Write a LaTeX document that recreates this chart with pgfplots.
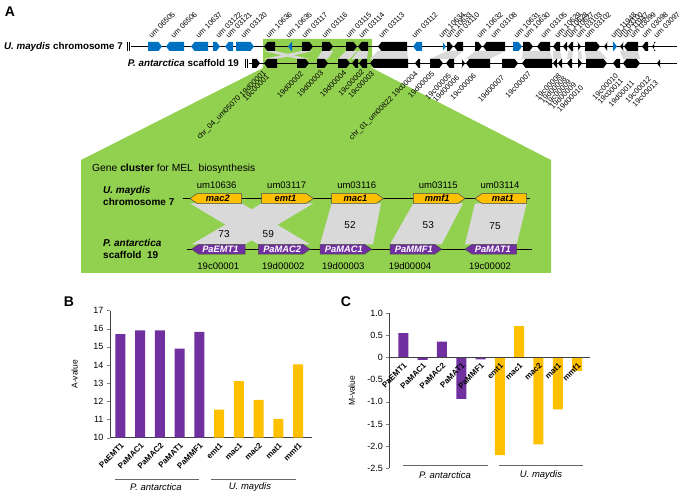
\documentclass[border=0pt]{standalone}
\usepackage{fontspec}
\setmainfont{Liberation Sans}
\usepackage{pgfplots}
\pgfplotsset{compat=1.18}
\definecolor{umblue}{HTML}{0070C0}
\definecolor{mgreen}{HTML}{92D050}
\definecolor{mgrey}{HTML}{D9D9D9}
\definecolor{myellow}{HTML}{FFC000}
\definecolor{mpurple}{HTML}{7030A0}
% small gene arrows of the overview (x1, x2, y, colour)
\newcommand{\GR}[4]{\fill[#4] (axis cs:#1,{#3-4.5}) -- (axis cs:{#2-3.5},{#3-4.5}) -- (axis cs:#2,#3) -- (axis cs:{#2-3.5},{#3+4.5}) -- (axis cs:#1,{#3+4.5}) -- cycle;}
\newcommand{\GL}[4]{\fill[#4] (axis cs:#2,{#3-4.5}) -- (axis cs:{#1+3.5},{#3-4.5}) -- (axis cs:#1,#3) -- (axis cs:{#1+3.5},{#3+4.5}) -- (axis cs:#2,{#3+4.5}) -- cycle;}
% band between the two overview rows (top x1,x2, bottom x1,x2)
\newcommand{\BD}[4]{\fill[mgrey] (axis cs:#1,51) -- (axis cs:#2,51) -- (axis cs:#4,58.8) -- (axis cs:#3,58.8) -- cycle;}
% cluster genes (x1,x2,y,fill,text,textcolour)
\newcommand{\CR}[6]{\filldraw[fill=#4, draw=black!70, line width=0.5pt] (axis cs:#1,{#3-4.9}) -- (axis cs:{#2-7},{#3-4.9}) -- (axis cs:#2,#3) -- (axis cs:{#2-7},{#3+4.9}) -- (axis cs:#1,{#3+4.9}) -- cycle;
 \node[text=#6, font=\bfseries\itshape\fontsize{9.3}{10}\selectfont, inner sep=0pt] at (axis cs:{(#1+#2)/2-2},#3) {#5};}
\newcommand{\CL}[6]{\filldraw[fill=#4, draw=black!70, line width=0.5pt] (axis cs:#2,{#3-4.9}) -- (axis cs:{#1+7},{#3-4.9}) -- (axis cs:#1,#3) -- (axis cs:{#1+7},{#3+4.9}) -- (axis cs:#2,{#3+4.9}) -- cycle;
 \node[text=#6, font=\bfseries\itshape\fontsize{9.3}{10}\selectfont, inner sep=0pt] at (axis cs:{(#1+#2)/2+2},#3) {#5};}
\newcommand{\TL}[2]{\node[rotate=45, anchor=west, inner sep=0pt, font=\fontsize{7.5}{8}\selectfont] at (axis cs:#1,37) {#2};}
\newcommand{\BL}[3]{\node[rotate=45, anchor=east, inner sep=0pt, font=\fontsize{7.5}{8}\selectfont] at (axis cs:#1,#2) {#3};}
\newcommand{\TX}[4]{\node[font=\fontsize{#4}{10}\selectfont, inner sep=0pt] at (axis cs:#1,#2) {#3};}
\begin{document}
\begin{tikzpicture}
\useasboundingbox (0,0) rectangle (683pt,494pt);
% ---------------- panel A (pixel coordinates) ----------------
\begin{axis}[at={(0pt,0pt)}, anchor=south west, scale only axis, width=683pt, height=494pt,
  xmin=0, xmax=683, ymin=0, ymax=494, y dir=reverse, hide axis, clip=false]
% green zoom region
\fill[mgreen] (axis cs:263,39) -- (axis cs:372,39) -- (axis cs:372,68) -- (axis cs:551,160) -- (axis cs:551,273) -- (axis cs:81,273) -- (axis cs:81,160) -- (axis cs:263,68) -- cycle;
% bands between rows
\BD{264}{275}{297}{309}
\BD{302}{313}{264}{277}
\BD{322}{333}{317}{328}
\BD{346}{357}{338}{350}
\BD{358}{368}{352}{367}
\BD{378}{407}{370}{408}
\BD{447}{463}{430}{454}
\BD{475}{505}{466}{490}
\BD{523}{550}{522}{552}
\BD{553}{560}{553}{562}
\BD{568}{573}{567}{572}
\BD{578}{581}{578}{582}
\BD{585}{600}{586}{607}
\BD{620}{638}{623}{640}
% row lines
\draw[black, line width=0.6pt] (axis cs:131,46.5) -- (axis cs:677,46.5);
\draw[black, line width=0.6pt] (axis cs:249,63.3) -- (axis cs:677,63.3);
\draw[black, line width=0.5pt] (axis cs:127,42) -- (axis cs:127,51);
\draw[black, line width=0.5pt] (axis cs:129.5,42) -- (axis cs:129.5,51);
\draw[black, line width=0.5pt] (axis cs:245,59) -- (axis cs:245,68);
\draw[black, line width=0.5pt] (axis cs:247.5,59) -- (axis cs:247.5,68);
\node[anchor=east, inner sep=0pt, font=\bfseries\fontsize{9.8}{10}\selectfont] at (axis cs:123,46.5) {\itshape U. maydis\upshape\ chromosome 7};
\node[anchor=east, inner sep=0pt, font=\bfseries\fontsize{9.8}{10}\selectfont] at (axis cs:239,63.3) {\itshape P. antarctica\upshape\ scaffold 19};
% top row genes
\GR{148}{162}{46.5}{umblue} \GL{166}{184}{46.5}{umblue} \GL{191}{208}{46.5}{umblue}
\GR{213}{220}{46.5}{umblue} \GL{225}{233}{46.5}{umblue} \GR{236}{254}{46.5}{umblue}
\GL{264}{275}{46.5}{black} \GL{288}{292}{46.5}{umblue} \GR{302}{313}{46.5}{black}
\GR{322}{333}{46.5}{black} \GR{346}{357}{46.5}{black} \GL{358}{368}{46.5}{black}
\GL{378}{407}{46.5}{black} \GL{413}{422}{46.5}{umblue} \GR{443}{446}{46.5}{umblue}
\GR{447}{453}{46.5}{black} \GL{454}{463}{46.5}{black} \GR{475}{482}{46.5}{black}
\GL{483}{505}{46.5}{black} \GR{513}{522}{46.5}{umblue} \GR{523}{533}{46.5}{black}
\GL{537}{550}{46.5}{black} \GL{553}{560}{46.5}{black} \GL{563}{567}{46.5}{black}
\GL{568}{573}{46.5}{black} \GR{578}{581}{46.5}{black} \GR{585}{600}{46.5}{black}
\GL{604}{607}{46.5}{black} \GR{613}{617}{46.5}{umblue} \GL{620}{623}{46.5}{black}
\GL{624}{638}{46.5}{black} \GL{642}{648}{46.5}{black} \GL{652}{654}{46.5}{black}
% second row genes
\GR{252}{260}{63.3}{black} \GL{264}{277}{63.3}{black} \GR{297}{309}{63.3}{black}
\GR{317}{328}{63.3}{black} \GR{338}{350}{63.3}{black} \GL{352}{358}{63.3}{black}
\GL{359}{367}{63.3}{black} \GL{370}{408}{63.3}{black} \GL{415}{420}{63.3}{black}
\GR{430}{443}{63.3}{black} \GL{446}{454}{63.3}{black} \GR{462}{465}{63.3}{black}
\GL{466}{490}{63.3}{black} \GR{502}{518}{63.3}{black} \GL{522}{552}{63.3}{black}
\GL{553}{557}{63.3}{black} \GL{558}{562}{63.3}{black} \GL{567}{572}{63.3}{black}
\GR{578}{582}{63.3}{black} \GR{586}{607}{63.3}{black} \GL{613}{620}{63.3}{black}
\GL{623}{627}{63.3}{black} \GR{627}{640}{63.3}{black} \GL{657}{660}{63.3}{black}
% top labels
\TL{150}{um 06505} \TL{172}{um 06506} \TL{197}{um 10637} \TL{217}{um 03122}
\TL{227}{um 03121} \TL{242}{um 03120} \TL{267}{um 10636} \TL{287}{um 10635}
\TL{303}{um 03117} \TL{323}{um 03116} \TL{347}{um 03115} \TL{360}{um 03114}
\TL{380}{um 03113} \TL{413}{um 03112} \TL{440}{um 10634} \TL{447}{um 10633}
\TL{455}{um 03110} \TL{478}{um 10632} \TL{492}{um 03108} \TL{515}{um 10631}
\TL{525}{um 10630} \TL{542}{um 03105} \TL{556}{um 10629} \TL{563}{um 10628}
\TL{569}{um 10627} \TL{577}{um 03103} \TL{586}{um 03102} \TL{612}{um 11948}
\TL{618}{um 03100} \TL{624}{um 11947} \TL{631}{um 03099} \TL{643}{um 03098}
\TL{655}{um 03097}
% bottom labels
\BL{265}{72}{chr\_04\_um05070 19d00001} \BL{268}{76}{19c00001}
\BL{302}{73}{19d00002} \BL{322}{72}{19d00003} \BL{345}{72}{19d00004}
\BL{363}{71}{19c00002} \BL{373}{73}{19c00003} \BL{417}{73}{chr\_01\_um00822 19c00004}
\BL{433}{73}{19d00005} \BL{450}{75}{19c00005} \BL{458}{77}{19d00006}
\BL{475}{75}{19c00006} \BL{503}{77}{19d00007} \BL{530}{73}{19c00007}
\BL{560}{75}{19c00008} \BL{565}{78}{19d00008} \BL{570}{81}{19c00009}
\BL{575}{84}{19d00009} \BL{582}{87}{19d00010} \BL{617}{75}{19c00010}
\BL{622}{80}{19c00011} \BL{633}{82}{19d00011} \BL{650}{78}{19c00012}
\BL{657}{82}{19c00013}
% ---- cluster box ----
\node[anchor=west, inner sep=0pt, font=\fontsize{10.3}{11}\selectfont] at (axis cs:92,169) {Gene \textbf{cluster} for MEL\ \ biosynthesis};
\node[anchor=west, inner sep=0pt, font=\bfseries\fontsize{10}{11.5}\selectfont, align=left] at (axis cs:103,196) {\itshape U. maydis\\chromosome 7};
\node[anchor=west, inner sep=0pt, font=\bfseries\fontsize{10}{11.5}\selectfont, align=left] at (axis cs:103,249) {\itshape P. antarctica\\scaffold\ \ 19};
% grey homology bands
\fill[mgrey] (axis cs:190,203.4) -- (axis cs:241.7,203.4) -- (axis cs:310,244.3) -- (axis cs:258.3,244.3) -- cycle;
\fill[mgrey] (axis cs:261.7,203.4) -- (axis cs:313.3,203.4) -- (axis cs:245,244.3) -- (axis cs:191.7,244.3) -- cycle;
\fill[mgrey] (axis cs:331.7,203.4) -- (axis cs:381,203.4) -- (axis cs:373,244.3) -- (axis cs:320,244.3) -- cycle;
\fill[mgrey] (axis cs:413.3,203.4) -- (axis cs:463,203.4) -- (axis cs:441.7,244.3) -- (axis cs:390,244.3) -- cycle;
\fill[mgrey] (axis cs:475,203.4) -- (axis cs:526.7,203.4) -- (axis cs:516.7,244.3) -- (axis cs:465,244.3) -- cycle;
\draw[black, line width=0.7pt] (axis cs:183,198.5) -- (axis cs:530,198.5);
\draw[black, line width=0.7pt] (axis cs:187,249.2) -- (axis cs:532,249.2);
\CL{190}{241.7}{198.5}{myellow}{mac2}{black}
\CR{261.7}{313.3}{198.5}{myellow}{emt1}{black}
\CR{331.7}{383.3}{198.5}{myellow}{mac1}{black}
\CR{413.3}{465}{198.5}{myellow}{mmf1}{black}
\CL{475}{526.7}{198.5}{myellow}{mat1}{black}
\CL{191.7}{245}{249.2}{mpurple}{PaEMT1}{white}
\CR{258.3}{310}{249.2}{mpurple}{PaMAC2}{white}
\CR{320}{371.7}{249.2}{mpurple}{PaMAC1}{white}
\CR{390}{441.7}{249.2}{mpurple}{PaMMF1}{white}
\CL{465}{516.7}{249.2}{mpurple}{PaMAT1}{white}
\TX{216.7}{185.5}{um10636}{9.5} \TX{286.7}{185.5}{um03117}{9.5} \TX{356.7}{185.5}{um03116}{9.5}
\TX{438.3}{185.5}{um03115}{9.5} \TX{500}{185.5}{um03114}{9.5}
\TX{218.3}{266.5}{19c00001}{9.5} \TX{283.3}{266.5}{19d00002}{9.5} \TX{343.3}{266.5}{19d00003}{9.5}
\TX{410}{266.5}{19d00004}{9.5} \TX{490}{266.5}{19c00002}{9.5}
\TX{224}{234.3}{73}{10} \TX{268.3}{234.3}{59}{10} \TX{350}{225}{52}{10}
\TX{428.3}{225.5}{53}{10} \TX{495}{226}{75}{10}
% panel letters and group labels
\node[font=\bfseries\fontsize{14}{15}\selectfont, inner sep=0pt] at (axis cs:10,12) {A};
\node[font=\bfseries\fontsize{14}{15}\selectfont, inner sep=0pt] at (axis cs:69,302) {B};
\node[font=\bfseries\fontsize{14}{15}\selectfont, inner sep=0pt] at (axis cs:346,302) {C};
\draw[black!60, line width=0.8pt] (axis cs:115,479.3) -- (axis cs:199,479.3);
\draw[black!60, line width=0.8pt] (axis cs:211,479.3) -- (axis cs:296,479.3);
\node[font=\itshape\fontsize{9.5}{10}\selectfont, inner sep=0pt] at (axis cs:156,487) {P. antarctica};
\node[font=\itshape\fontsize{9.5}{10}\selectfont, inner sep=0pt] at (axis cs:250,487) {U. maydis};
\draw[black!60, line width=0.8pt] (axis cs:403,465.7) -- (axis cs:488,465.7);
\draw[black!60, line width=0.8pt] (axis cs:499,465.7) -- (axis cs:583,465.7);
\node[font=\itshape\fontsize{9.5}{10}\selectfont, inner sep=0pt] at (axis cs:445,475) {P. antarctica};
\node[font=\itshape\fontsize{9.5}{10}\selectfont, inner sep=0pt] at (axis cs:541,475) {U. maydis};
\end{axis}
% ---------------- panel B ----------------
\begin{axis}[at={(110pt,56.3pt)}, anchor=south west, scale only axis, width=202pt, height=127.2pt,
  xmin=-0.53, xmax=9.7, ymin=10, ymax=17,
  axis x line*=bottom, axis y line*=left, axis line style={black!75, line width=0.6pt},
  ytick={10,11,12,13,14,15,16,17}, yticklabels={10,11,12,13,14,15,16,17},
  yticklabel style={font=\fontsize{9}{10}\selectfont},
  xtick={0,...,9}, xticklabels={PaEMT1,PaMAC1,PaMAC2,PaMAT1,PaMMF1,emt1,mac1,mac2,mat1,mmf1},
  xticklabel style={rotate=45, anchor=north east, font=\bfseries\fontsize{8}{9}\selectfont, inner sep=1pt},
  major x tick style={draw=none}, tick align=outside, major tick length=3pt,
  ylabel={A-value}, ylabel style={at={(axis description cs:-0.175,0.5)}, anchor=center, font=\fontsize{8.5}{9}\selectfont}]
\addplot[ybar, bar width=10pt, bar shift=0pt, fill=mpurple, draw=none] coordinates {(0,15.7) (1,15.9) (2,15.9) (3,14.9) (4,15.83)};
\addplot[ybar, bar width=10pt, bar shift=0pt, fill=myellow, draw=none] coordinates {(5,11.55) (6,13.12) (7,12.08) (8,11.04) (9,14.04)};
\end{axis}
% ---------------- panel C ----------------
\begin{axis}[at={(389.3pt,25.7pt)}, anchor=south west, scale only axis, width=200.7pt, height=155pt,
  xmin=-0.73, xmax=9.67, ymin=-2.5, ymax=1,
  axis x line=middle, axis y line=left, axis line style={-, black!75, line width=0.6pt},
  axis on top, hide obscured x ticks=false, hide obscured y ticks=false,
  ytick={-2.5,-2,-1.5,-1,-0.5,0,0.5,1}, yticklabels={-2.5,-2.0,-1.5,-1.0,-0.5,0,0.5,1.0},
  yticklabel style={font=\fontsize{9}{10}\selectfont},
  xtick={0,...,9}, xticklabels={PaEMT1,PaMAC1,PaMAC2,PaMAT1,PaMMF1,emt1,mac1,mac2,mat1,mmf1},
  xticklabel style={rotate=45, anchor=north east, font=\bfseries\fontsize{8}{9}\selectfont, inner sep=1pt},
  major x tick style={draw=none}, tick align=outside, major tick length=3pt,
  ylabel={M-value}, ylabel style={at={(axis description cs:-0.187,0.5)}, anchor=center, font=\fontsize{8.5}{9}\selectfont}]
\addplot[ybar, bar width=10pt, bar shift=0pt, fill=mpurple, draw=none] coordinates {(0,0.55) (1,-0.05) (2,0.36) (3,-0.93) (4,-0.04)};
\addplot[ybar, bar width=10pt, bar shift=0pt, fill=myellow, draw=none] coordinates {(5,-2.2) (6,0.71) (7,-1.96) (8,-1.17) (9,-0.3)};
\end{axis}
\end{tikzpicture}
\end{document}
